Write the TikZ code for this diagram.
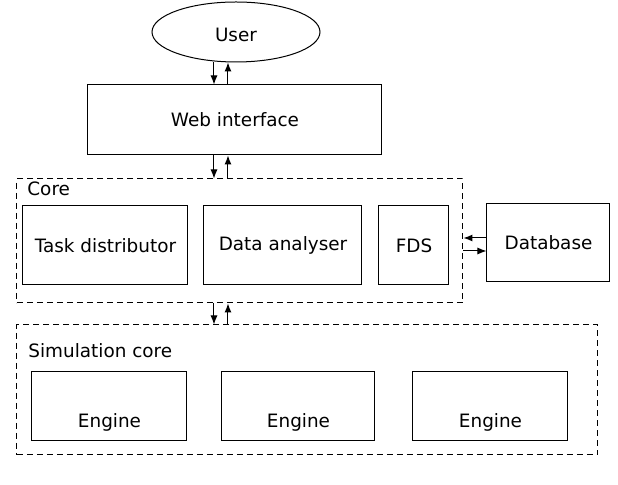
\documentclass[tikz,border=0pt]{standalone}
\usepackage{fontspec}
\setmainfont{DejaVu Sans}
\usetikzlibrary{arrows.meta,positioning,shapes.geometric}

\begin{document}
\begin{tikzpicture}
[x=0.5pt,y=-0.5pt,font=\fontsize{9.2}{11}\selectfont,
 block/.style={draw,line width=0.5pt,inner sep=0pt,minimum height=39.5pt},
 engine/.style={block,minimum height=34.5pt,text height=21.5pt,text depth=0pt},
 group/.style={draw,dash pattern=on 3pt off 2pt,line width=0.5pt,inner sep=0pt},
 link/.style={-{Latex[length=4.5pt,width=3.5pt]},line width=0.5pt}]
      \useasboundingbox (0,0) rectangle (618,485);

      \node[ellipse,draw,line width=0.5pt,minimum width=84pt,minimum height=30pt,inner sep=0pt,text height=9.1pt,text depth=0pt] (user) at (236,32) {User};
      \node[block,minimum width=147pt,minimum height=35pt] (web) at (235,120) {Web interface};

      % core and its parts
      \node[group,minimum width=223pt,minimum height=62pt] (core) at (240,241) {};
      \node[anchor=base west,inner sep=0pt] (corelabel) at (27,196) {Core};
      \node[block,minimum width=82.5pt] (task) at (105.5,245.5) {Task distributor};
      \node[block,minimum width=79pt] (analyser) at (283,245.5) {Data analyser};
      \node[block,minimum width=35pt] (fds) at (414,245.5) {FDS};
      \node[block,minimum width=61.5pt,minimum height=39pt] (db) at (548.5,243) {Database};

      % simulation core with the engines
      \node[group,minimum width=290.5pt,minimum height=65pt] (sim) at (307.5,390) {};
      \node[anchor=base west,inner sep=0pt] (simlabel) at (28,358) {Simulation core};
      \node[engine,minimum width=77.5pt] (eng1) at (109.5,406.5) {Engine};
      \node[engine,minimum width=76.5pt] (eng2) at (298.5,406.5) {Engine};
      \node[engine,minimum width=77.5pt] (eng3) at (490.5,406.5) {Engine};

      \coordinate (dn) at (214,0);
      \coordinate (up) at (228,0);
      \coordinate (dbin) at (0,238);
      \coordinate (dbout) at (0,251);

      \draw[link] (user.south -| dn) -- (web.north -| dn);
      \draw[link] (web.north -| up) -- (user.south -| up);
      \draw[link] (web.south -| dn) -- (core.north -| dn);
      \draw[link] (core.north -| up) -- (web.south -| up);
      \draw[link] (core.south -| dn) -- (sim.north -| dn);
      \draw[link] (sim.north -| up) -- (core.south -| up);
      \draw[link] (db.west |- dbin) -- (core.east |- dbin);
      \draw[link] (core.east |- dbout) -- (db.west |- dbout);
\end{tikzpicture}
\end{document}
